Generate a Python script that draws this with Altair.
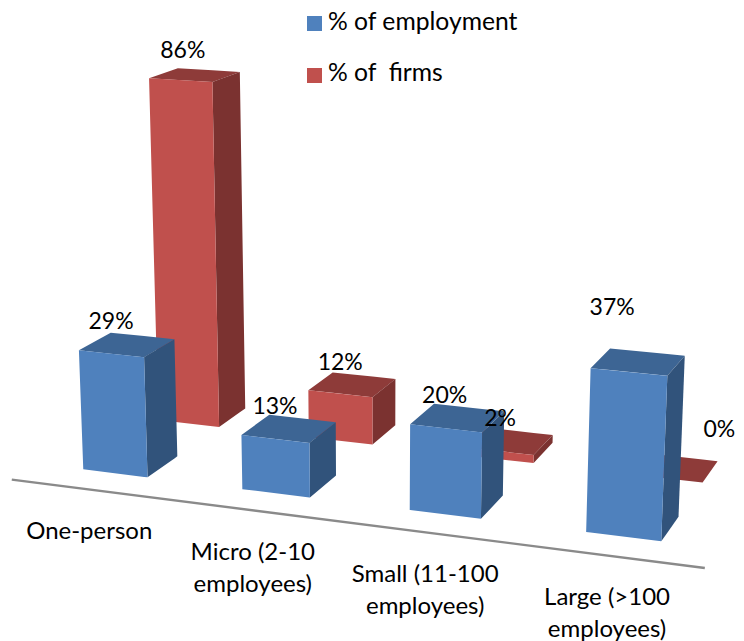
import numpy as np
import pandas as pd
import altair as alt

# ---- chart values ----
categories = ["One-person", "Micro (2-10 employees)", "Small (11-100 employees)", "Large (>100 employees)"]
series = ["% of employment", "% of \u00a0firms"]
employment = [29, 13, 20, 37]
firms = [86, 12, 2, 0]

# ---- 3-D view: camera matrix of the (category, series depth, value) space ----
CAMERA = np.array([[153.0227, 85.83076, -0.1910476, 83.27908],
                   [7.611112, -20.78586, -4.285166, 469.3698],
                   [-0.02490882, 0.06830615, -0.0005116772, 1.0]])
BAR_W, BAR_D = 0.41, 0.40
FONT = "Lato"
W, H = 728, 633


def project(x, z, h):
    q = CAMERA @ np.array([x, z, h, 1.0])
    return q[0] / q[2], q[1] / q[2]


def span_rows(poly):
    """Turn a convex polygon into x / y0 / y1 rows for an area mark."""
    n = len(poly)
    rows = []
    for xv in sorted({p[0] for p in poly}):
        ys = []
        for a in range(n):
            (x1, y1), (x2, y2) = poly[a], poly[(a + 1) % n]
            if min(x1, x2) <= xv <= max(x1, x2):
                if x1 == x2:
                    ys += [y1, y2]
                else:
                    ys.append(y1 + (y2 - y1) * (xv - x1) / (x2 - x1))
        rows.append((xv, min(ys), max(ys)))
    return rows


rows = []
def add_bar(i, j, v, key):
    x0, x1, z0, z1 = i, i + BAR_W, j, j + BAR_D
    faces = {
        "top": [(x0, z0, v), (x1, z0, v), (x1, z1, v), (x0, z1, v)],
        "side": [(x1, z0, 0), (x1, z1, 0), (x1, z1, v), (x1, z0, v)],
        "front": [(x0, z0, 0), (x1, z0, 0), (x1, z0, v), (x0, z0, v)],
    }
    for face, pts in faces.items():
        if v == 0 and face != "top":
            continue
        poly = [project(*p) for p in pts]
        for x, y0, y1 in span_rows(poly):
            rows.append(dict(poly=f"{key}-{i}-{face}", part=f"{key}-{face}", x=x, y0=y0, y1=y1))


for i, v in enumerate(firms):
    add_bar(i, 1, v, "firms")
for i, v in enumerate(employment):
    add_bar(i, 0, v, "emp")
faces_df = pd.DataFrame(rows)

part_domain = ["emp-front", "emp-top", "emp-side", "firms-front", "firms-top", "firms-side"]
part_range = ["#4F81BD", "#3D6594", "#31537B", "#C0504D", "#8E3B39", "#7B3230"]

xs = alt.X("x:Q", scale=alt.Scale(domain=[8, 8 + W]), axis=None)
ys = alt.Y("y:Q", scale=alt.Scale(domain=[8 + H, 8]), axis=None)
ys_area = alt.Y("y0:Q", scale=alt.Scale(domain=[8 + H, 8]), axis=None)
part_scale = alt.Scale(domain=part_domain, range=part_range)

bars = alt.Chart(faces_df).mark_area(interpolate="linear", orient="vertical").encode(
    x=xs, y=ys_area, y2="y1:Q",
    color=alt.Color("part:N", scale=part_scale, legend=None),
    detail="poly:N")

# floor line
base_pts = [project(-0.30, -0.30, 0), project(3.71, -0.30, 0)]
base = alt.Chart(pd.DataFrame({"x": [p[0] for p in base_pts], "y": [p[1] for p in base_pts]})).mark_line(
    color="#8A8A8A", strokeWidth=2.4).encode(x=xs, y=ys)

# data labels: above each bar's top, two of them moved by hand in the original
nudge_emp = [(-16, -23), (-14, -22), (-13, -22), (-26, -54)]
nudge_firms = [(-12, -24), (-12, -22), (-10, -22), (44, -38)]
lab = []
for vals, j, nudge in ((employment, 0, nudge_emp), (firms, 1, nudge_firms)):
    for i, v in enumerate(vals):
        x, y = project(i + BAR_W / 2, j + BAR_D / 2, v)
        lab.append(dict(x=x + nudge[i][0], y=y + nudge[i][1], t=f"{v}%"))
labels = alt.Chart(pd.DataFrame(lab)).mark_text(
    font=FONT, fontSize=23, color="#000000", baseline="middle", align="center").encode(x=xs, y=ys, text="t:N")

# category labels along the floor line
cat_lines = [["One-person"], ["Micro (2-10", "employees)"], ["Small (11-100", "employees)"], ["Large (>100", "employees)"]]
cat_rows = []
for i, lines in enumerate(cat_lines):
    bx, by = project(i + BAR_W / 2, -0.30, 0)
    for k, line in enumerate(lines):
        cat_rows.append(dict(x=bx - 2, y=by + 42 + k * 32, t=line))
cat_text = alt.Chart(pd.DataFrame(cat_rows)).mark_text(
    font=FONT, fontSize=24, color="#000000", baseline="middle", align="center").encode(x=xs, y=ys, text="t:N")

# legend
leg_df = pd.DataFrame({"x": [314.5, 314.5], "y": [23.5, 75.5], "s": series})
leg_sq = alt.Chart(leg_df).mark_square(size=225, opacity=1).encode(
    x=xs, y=ys, color=alt.Color("s:N", scale=alt.Scale(domain=series, range=["#4F81BD", "#C0504D"]), legend=None))
leg_tx = alt.Chart(leg_df.assign(x=328, y=[23, 74])).mark_text(
    font=FONT, fontSize=24.7, color="#000000", align="left", baseline="middle").encode(x=xs, y=ys, text="s:N")

chart = alt.layer(base, bars, cat_text, labels, leg_sq, leg_tx).resolve_scale(
    color="independent"
).properties(
    width=W, height=H, padding=0, autosize=alt.AutoSizeParams(type="none"),
).configure_view(stroke=None)

chart.save("out.html", embed_options={"renderer": "svg", "actions": False})
